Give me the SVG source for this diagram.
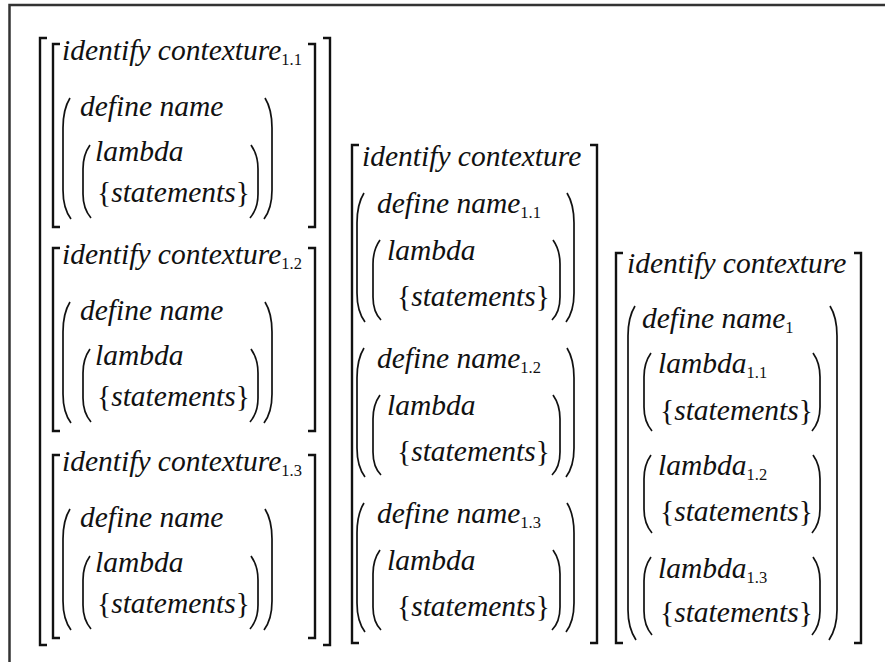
<svg xmlns="http://www.w3.org/2000/svg" width="885" height="662" viewBox="0 0 885 662">
<style>
text{font-family:"Liberation Serif","Times New Roman",Times,"DejaVu Serif",serif;font-size:29.5px;font-style:italic;fill:#111}
.up{font-style:normal}
.sub{font-style:normal;font-size:16.5px}
.br{fill:none;stroke:#111;stroke-width:2.4}
.pr{fill:none;stroke:#111;stroke-width:1.7}
.frame{fill:none;stroke:#333;stroke-width:2.5}
</style>
<rect width="885" height="662" fill="#fff"/>
<path class="frame" d="M9.5,662 V5 H885"/>

<g id="column1" font-family="Liberation Serif, serif">
  <path class="br" d="M47,38 H40 V645 H47"/>
  <path class="br" d="M323,38 H330 V645 H323"/>
  <g id="contexture11">
    <path class="br" d="M60,44 H53 V227 H60"/>
    <path class="br" d="M308,44 H315 V227 H308"/>
    <text x="62" y="60">identify contexture<tspan class="sub" dy="5">1.1</tspan></text>
    <path class="pr" d="M70,98 C65,106 63,116 63,128 L63,190 C63,202 65,211 71,219"/>
    <path class="pr" d="M265,98 C270,106 272,116 272,128 L272,190 C272,202 270,211 264,219"/>
    <text x="80" y="116">define name</text>
    <path class="pr" d="M90,145 C85,152 83,159 83,169 L83,194 C83,204 85,211 91,218"/>
    <path class="pr" d="M251,145 C256,152 258,159 258,169 L258,194 C258,204 256,211 250,218"/>
    <text x="95" y="161">lambda</text>
    <text x="97" y="202"><tspan class="up">{</tspan>statements<tspan class="up">}</tspan></text>
  </g>
  <g id="contexture12">
    <path class="br" d="M60,248 H53 V431 H60"/>
    <path class="br" d="M308,248 H315 V431 H308"/>
    <text x="62" y="264">identify contexture<tspan class="sub" dy="5">1.2</tspan></text>
    <path class="pr" d="M70,302 C65,310 63,320 63,332 L63,394 C63,406 65,415 71,423"/>
    <path class="pr" d="M265,302 C270,310 272,320 272,332 L272,394 C272,406 270,415 264,423"/>
    <text x="80" y="320">define name</text>
    <path class="pr" d="M90,349 C85,356 83,363 83,373 L83,398 C83,408 85,415 91,422"/>
    <path class="pr" d="M251,349 C256,356 258,363 258,373 L258,398 C258,408 256,415 250,422"/>
    <text x="95" y="365">lambda</text>
    <text x="97" y="406"><tspan class="up">{</tspan>statements<tspan class="up">}</tspan></text>
  </g>
  <g id="contexture13">
    <path class="br" d="M60,455 H53 V638 H60"/>
    <path class="br" d="M308,455 H315 V638 H308"/>
    <text x="62" y="471">identify contexture<tspan class="sub" dy="5">1.3</tspan></text>
    <path class="pr" d="M70,509 C65,517 63,527 63,539 L63,601 C63,613 65,622 71,630"/>
    <path class="pr" d="M265,509 C270,517 272,527 272,539 L272,601 C272,613 270,622 264,630"/>
    <text x="80" y="527">define name</text>
    <path class="pr" d="M90,556 C85,563 83,570 83,580 L83,605 C83,615 85,622 91,629"/>
    <path class="pr" d="M251,556 C256,563 258,570 258,580 L258,605 C258,615 256,622 250,629"/>
    <text x="95" y="572">lambda</text>
    <text x="97" y="613"><tspan class="up">{</tspan>statements<tspan class="up">}</tspan></text>
  </g>
</g>

<g id="column2" font-family="Liberation Serif, serif">
  <path class="br" d="M359,145 H352 V643 H359"/>
  <path class="br" d="M590,145 H597 V643 H590"/>
  <text x="362" y="166">identify contexture</text>
  <g id="name11">
    <path class="pr" d="M364,193 C359,201 357,211 357,223 L357,293 C357,305 359,314 365,322"/>
    <path class="pr" d="M567,193 C572,201 574,211 574,223 L574,293 C574,305 572,314 566,322"/>
    <text x="377" y="213">define name<tspan class="sub" dy="5">1.1</tspan></text>
    <path class="pr" d="M380,240 C375,247 373,254 373,264 L373,297 C373,307 375,314 381,320"/>
    <path class="pr" d="M553,240 C558,247 560,254 560,264 L560,297 C560,307 558,314 552,320"/>
    <text x="387" y="260">lambda</text>
    <text x="397" y="306"><tspan class="up">{</tspan>statements<tspan class="up">}</tspan></text>
  </g>
  <g id="name12">
    <path class="pr" d="M364,348 C359,356 357,366 357,378 L357,448 C357,460 359,469 365,477"/>
    <path class="pr" d="M567,348 C572,356 574,366 574,378 L574,448 C574,460 572,469 566,477"/>
    <text x="377" y="368">define name<tspan class="sub" dy="5">1.2</tspan></text>
    <path class="pr" d="M380,395 C375,402 373,409 373,419 L373,452 C373,462 375,469 381,475"/>
    <path class="pr" d="M553,395 C558,402 560,409 560,419 L560,452 C560,462 558,469 552,475"/>
    <text x="387" y="415">lambda</text>
    <text x="397" y="461"><tspan class="up">{</tspan>statements<tspan class="up">}</tspan></text>
  </g>
  <g id="name13">
    <path class="pr" d="M364,503 C359,511 357,521 357,533 L357,603 C357,615 359,624 365,632"/>
    <path class="pr" d="M567,503 C572,511 574,521 574,533 L574,603 C574,615 572,624 566,632"/>
    <text x="377" y="523">define name<tspan class="sub" dy="5">1.3</tspan></text>
    <path class="pr" d="M380,550 C375,557 373,564 373,574 L373,607 C373,617 375,624 381,630"/>
    <path class="pr" d="M553,550 C558,557 560,564 560,574 L560,607 C560,617 558,624 552,630"/>
    <text x="387" y="570">lambda</text>
    <text x="397" y="616"><tspan class="up">{</tspan>statements<tspan class="up">}</tspan></text>
  </g>
</g>

<g id="column3" font-family="Liberation Serif, serif">
  <path class="br" d="M623,253 H616 V643 H623"/>
  <path class="br" d="M854,253 H861 V643 H854"/>
  <text x="627" y="273">identify contexture</text>
  <g id="name1">
    <path class="pr" d="M635,306 C630,314 628,324 628,336 L628,610 C628,622 630,631 636,640"/>
    <path class="pr" d="M830,306 C835,314 837,324 837,336 L837,610 C837,622 835,631 829,640"/>
    <text x="642" y="328">define name<tspan class="sub" dy="5">1</tspan></text>
  </g>
  <g id="lambda11">
    <path class="pr" d="M651,353 C646,360 644,367 644,377 L644,407 C644,417 646,424 652,431"/>
    <path class="pr" d="M813,353 C818,360 820,367 820,377 L820,407 C820,417 818,424 812,431"/>
    <text x="658" y="373">lambda<tspan class="sub" dy="5">1.1</tspan></text>
    <text x="660" y="420"><tspan class="up">{</tspan>statements<tspan class="up">}</tspan></text>
  </g>
  <g id="lambda12">
    <path class="pr" d="M651,455 C646,462 644,469 644,479 L644,509 C644,519 646,526 652,533"/>
    <path class="pr" d="M813,455 C818,462 820,469 820,479 L820,509 C820,519 818,526 812,533"/>
    <text x="658" y="475">lambda<tspan class="sub" dy="5">1.2</tspan></text>
    <text x="660" y="521"><tspan class="up">{</tspan>statements<tspan class="up">}</tspan></text>
  </g>
  <g id="lambda13">
    <path class="pr" d="M651,557 C646,564 644,571 644,581 L644,611 C644,621 646,628 652,635"/>
    <path class="pr" d="M813,557 C818,564 820,571 820,581 L820,611 C820,621 818,628 812,635"/>
    <text x="658" y="578">lambda<tspan class="sub" dy="5">1.3</tspan></text>
    <text x="660" y="622"><tspan class="up">{</tspan>statements<tspan class="up">}</tspan></text>
  </g>
</g>
<g id="connectors"/>
</svg>
